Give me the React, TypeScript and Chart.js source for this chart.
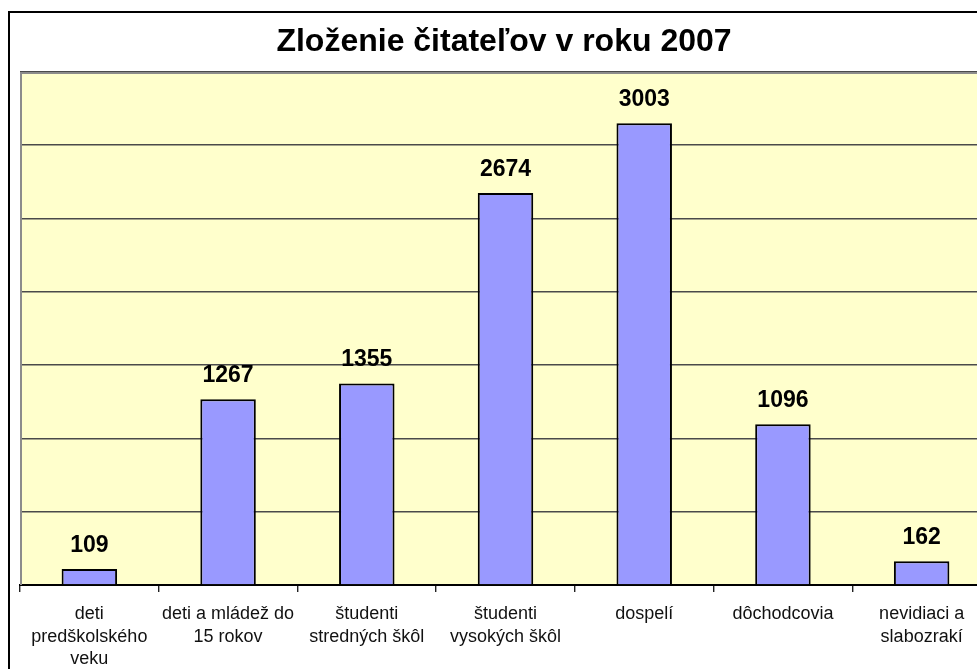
import React, { useEffect, useRef } from "react";
import { Chart, registerables } from "chart.js";

Chart.register(...registerables);

const titleText = "Zloženie čitateľov v roku 2007";
const categories: string[][] = [
  ["deti", "predškolského", "veku"],
  ["deti a mládež do", "15 rokov"],
  ["študenti", "stredných škôl"],
  ["študenti", "vysokých škôl"],
  ["dospelí"],
  ["dôchodcovia"],
  ["nevidiaci a", "slabozrakí"],
];
// bar heights
const barValues = [109, 1267, 1375, 2674, 3150, 1096, 162];
// printed data labels
const dataLabels = ["109", "1267", "1355", "2674", "3003", "1096", "162"];
const yMin = 0;
const yMax = 3500;
const yStep = 500;

const FONT = '"Liberation Sans", Arial, sans-serif';

export default function App() {
  const ref = useRef<HTMLCanvasElement | null>(null);

  useEffect(() => {
    const canvas = ref.current;
    if (!canvas) return;
    const W = 1015;
    const H = 669;

    const decor = {
      id: "decor",
      beforeDraw(chart: any) {
        const { ctx, chartArea } = chart;
        ctx.save();
        ctx.fillStyle = "#ffffff";
        ctx.fillRect(0, 0, W, H);
        ctx.strokeStyle = "#000000";
        ctx.lineWidth = 2;
        ctx.strokeRect(9, 12, 1003, 700);
        ctx.fillStyle = "#FFFFCC";
        ctx.fillRect(chartArea.left, chartArea.top, chartArea.right - chartArea.left, chartArea.bottom - chartArea.top);
        ctx.restore();
      },
      afterDatasetsDraw(chart: any) {
        const { ctx, chartArea } = chart;
        ctx.save();
        ctx.strokeStyle = "#8c8c8c";
        ctx.lineWidth = 2;
        ctx.beginPath();
        ctx.moveTo(chartArea.left + 1, chartArea.bottom);
        ctx.lineTo(chartArea.left + 1, chartArea.top + 1);
        ctx.lineTo(chartArea.right + 5, chartArea.top + 1);
        ctx.stroke();

        const meta = chart.getDatasetMeta(0);
        ctx.fillStyle = "#000000";
        ctx.font = `bold 23px ${FONT}`;
        ctx.textAlign = "center";
        ctx.textBaseline = "alphabetic";
        meta.data.forEach((el: any, i: number) => {
          ctx.fillText(dataLabels[i], el.x, el.y - 17);
        });

        ctx.font = `bold 32px ${FONT}`;
        ctx.fillText(titleText, 504, 51);
        ctx.restore();
      },
    };

    const chart = new Chart(canvas, {
      type: "bar",
      data: {
        labels: categories,
        datasets: [
          {
            data: barValues,
            backgroundColor: "#9999FF",
            borderColor: "#000000",
            borderWidth: 2,
            categoryPercentage: 1,
            barPercentage: 0.4,
          },
        ],
      },
      options: {
        responsive: false,
        animation: false,
        devicePixelRatio: 1,
        layout: { padding: { left: 20, top: 72, right: 24, bottom: 0 } },
        plugins: {
          legend: { display: false },
          title: { display: false },
          tooltip: { enabled: false },
        },
        scales: {
          y: {
            min: yMin,
            max: yMax,
            ticks: { display: false, stepSize: yStep },
            grid: { color: "#4a4a4a", lineWidth: 1.6, drawTicks: false },
            border: { display: false },
            afterFit: (s: any) => {
              s.width = 0;
            },
          },
          x: {
            grid: {
              offset: true,
              drawOnChartArea: false,
              drawTicks: true,
              tickLength: 7,
              color: "#222222",
              lineWidth: 1.4,
            },
            border: { display: true, color: "#000000", width: 2 },
            ticks: {
              color: "#111111",
              font: { family: FONT, size: 18, lineHeight: 1.25 },
              padding: 11,
              maxRotation: 0,
              minRotation: 0,
              autoSkip: false,
            },
            afterFit: (s: any) => {
              s.height = 84;
            },
          },
        },
      },
      plugins: [decor],
    } as any);

    return () => {
      chart.destroy();
    };
  }, []);

  return (
    <div
      style={{
        position: "fixed",
        left: 0,
        top: 0,
        width: 977,
        height: 669,
        overflow: "hidden",
        background: "#fff",
      }}
    >
      <canvas ref={ref} width={1015} height={669} style={{ display: "block", width: 1015, height: 669 }} />
    </div>
  );
}
